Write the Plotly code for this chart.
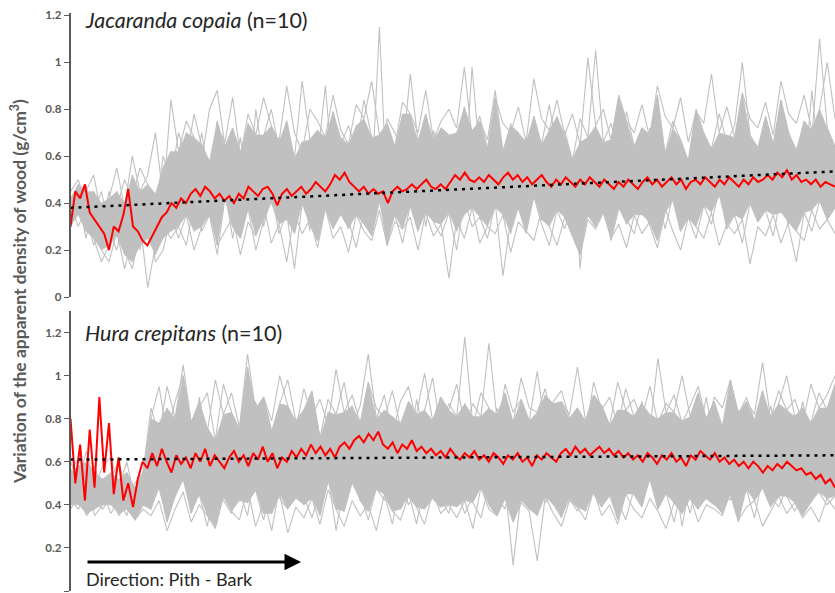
import numpy as np
import plotly.graph_objects as go

# ---------------- Jacaranda copaia: 10 individual profiles (density x100, g/cm3), pith -> bark
jc01 = [38,45,32,28,40,22,35,18,30,42,25,33,48,30,
        52,38,60,44,35,58,47,30,62,41,55,36,70,45,33,52,48,28,60,43,57,39,65,50,31,46,115,42,36,68,47,55,30,49,62,40,53,35,71,44,58,38,50,27,63,46,54,41,66,37,52,45,31,60,48,56,39,72,43,51,35,64,47,58,42,33,55,49,67,40,53,36,61,45,57,38,70,48,52,34,63,46,59,41,55,50]
jc02 = [42,35,48,30,25,38,45,28,52,20,40,35,55,62,
        48,70,55,62,45,75,58,50,68,42,80,56,61,47,72,53,66,44,59,90,51,64,48,73,57,45,69,55,62,78,50,65,43,71,58,54,67,46,98,60,52,63,49,74,56,68,45,60,53,77,62,48,66,55,70,44,59,85,57,64,50,72,58,46,67,61,53,75,49,63,56,69,47,80,60,54,65,51,73,58,62,48,88,57,66,52]
jc03 = [30,40,28,35,20,15,28,12,25,32,4,22,30,25,
        30,22,40,28,35,18,42,30,25,38,20,33,45,27,36,12,40,31,24,38,29,44,33,21,37,26,41,30,35,23,39,28,45,32,26,36,20,42,30,34,25,40,9,33,38,27,43,31,22,37,29,41,26,35,30,44,24,38,33,27,40,30,21,36,42,28,34,25,39,31,46,29,35,23,40,32,37,26,43,30,15,36,28,41,33,38]
jc04 = [45,50,40,35,45,30,38,50,42,55,48,36,60,50,
        70,58,78,64,55,72,66,85,60,74,57,69,80,63,75,59,92,67,71,58,79,65,73,62,84,68,56,76,70,61,95,66,78,60,72,69,57,81,64,75,67,88,62,73,70,59,77,65,82,63,71,58,76,68,105,66,74,60,79,64,72,69,86,61,75,67,58,80,70,63,78,66,73,100,69,62,77,65,84,70,60,75,68,110,72,64]
jc05 = [35,42,25,40,32,28,20,35,24,38,30,18,35,28,
        35,45,28,50,40,32,46,25,42,38,52,30,44,36,48,27,41,55,33,43,37,50,29,45,39,34,47,22,44,40,53,31,46,36,42,49,28,45,38,51,34,40,44,30,48,37,54,33,43,39,46,26,42,50,35,44,38,47,31,41,52,36,45,29,43,40,48,34,46,37,51,30,44,39,55,33,42,47,36,45,32,49,40,43,38,46]
jc06 = [32,38,35,22,30,45,26,40,15,30,48,38,25,45,
        55,42,50,65,47,38,58,52,44,62,49,56,40,68,53,46,60,51,43,64,57,35,54,61,48,59,45,66,52,50,41,63,55,47,58,44,70,51,56,39,61,54,48,65,50,43,59,53,46,62,49,57,12,55,60,45,52,67,48,58,51,44,63,56,49,60,42,54,66,50,57,46,61,53,48,64,52,59,45,55,62,50,47,58,53,60]
jc07 = [40,30,38,25,15,22,30,20,12,28,35,15,20,35,
        25,35,20,30,38,22,28,34,18,32,26,40,23,31,15,36,27,33,21,38,25,30,19,35,28,24,37,22,32,29,34,20,36,26,31,8,33,25,38,23,30,27,35,19,32,28,24,37,30,22,34,26,18,33,29,36,25,31,21,35,27,32,24,38,28,20,34,30,25,36,22,31,27,33,14,30,26,35,23,32,28,24,37,29,33,27]
jc08 = [40,48,45,52,35,42,55,38,60,45,52,70,42,84,
        62,75,68,58,80,88,64,72,60,78,69,85,73,66,90,70,62,80,75,68,86,71,65,82,76,92,69,74,64,83,78,70,88,67,75,80,72,98,68,77,63,85,74,70,81,66,93,76,71,84,69,78,65,102,73,80,67,86,75,70,82,68,90,77,72,85,66,79,74,95,70,81,68,87,76,72,83,69,92,78,74,86,71,80,100,76]
jc09 = [35,38,45,30,36,25,42,28,50,22,38,44,30,40,
        42,50,36,47,58,40,44,52,38,48,34,55,43,49,37,53,45,40,57,42,51,35,46,60,41,48,54,39,47,43,56,36,50,45,53,40,47,61,38,49,44,52,35,58,46,41,50,55,37,48,43,54,40,47,51,36,57,44,49,42,53,38,46,56,41,50,45,39,55,47,43,52,48,37,58,44,50,41,54,46,40,53,49,45,51,47]
jc10 = [30,42,38,45,28,35,32,40,30,45,36,40,50,38,
        60,45,52,70,48,56,62,40,58,51,66,46,55,60,43,57,64,50,47,59,53,68,44,61,55,49,63,52,58,45,67,54,50,60,47,56,62,48,65,53,58,51,44,60,55,63,49,57,52,66,47,59,54,61,50,56,64,48,58,53,46,62,55,51,67,49,57,60,52,45,63,56,50,59,54,61,48,58,65,53,57,50,62,55,59,52]

# ---------------- Hura crepitans: 10 individual profiles (density x100, g/cm3)
hc01 = [55,48,60,42,52,45,38,50,40,45,
        62,75,55,68,80,58,66,72,50,78,63,70,57,85,61,74,66,52,79,64,71,58,83,67,60,76,55,69,73,62,81,57,70,65,78,59,88,63,72,56,77,68,61,82,66,74,58,70,64,86,60,75,67,53,79,63,71,65,84,58,73,69,62,80,66,56,77,64,72,60,83,67,70,59,75,63,68,81,57,72,66,78,61,69,74,64]
hc02 = [60,52,65,48,58,62,50,55,45,52,
        80,95,72,88,100,78,85,92,70,96,83,75,104,81,90,74,87,98,79,84,93,71,89,82,97,76,86,110,80,91,73,88,95,78,84,99,75,87,81,118,77,92,85,74,96,83,89,79,102,76,88,93,80,85,72,97,84,90,77,94,81,87,75,108,83,91,78,86,95,80,88,74,98,82,90,79,93,76,87,100,81,85,78,92,84,96]
hc03 = [42,38,50,35,40,44,36,42,33,40,
        38,50,32,45,55,36,48,42,30,52,40,46,35,58,43,28,49,39,53,44,34,47,56,41,37,51,45,33,48,42,55,38,46,31,50,43,39,54,47,36,44,52,40,35,49,12,45,38,53,41,47,34,50,44,37,56,42,48,33,51,45,39,54,40,46,32,49,43,38,52,45,36,50,41,47,34,53,44,39,48,42,35,51,46,40,44]
hc04 = [50,58,45,55,48,52,60,44,50,55,
        70,60,85,66,74,58,90,68,62,80,72,65,88,70,77,61,83,69,75,64,92,71,67,79,73,86,63,76,70,84,66,78,60,89,72,68,81,74,65,87,70,77,62,85,73,69,80,75,66,91,71,78,64,83,72,68,86,74,61,79,70,88,67,76,73,82,65,80,71,90,69,75,63,84,72,78,66,86,70,74,81,68,77,72,85,75]
hc05 = [40,45,36,42,38,44,35,40,33,38,
        35,42,28,38,46,32,40,35,29,44,37,33,48,30,41,36,45,27,39,34,43,31,47,38,30,42,35,40,28,45,37,33,44,39,31,46,36,40,34,42,29,48,38,35,43,32,41,37,14,44,36,30,42,39,33,47,35,40,31,45,38,34,43,37,29,41,36,44,32,40,38,35,46,33,39,42,30,37,44,36,41,34,39,32,43,38]
hc06 = [48,55,42,50,45,40,52,38,46,50,
        58,48,66,52,60,45,70,55,50,63,57,47,68,54,61,49,72,56,51,65,46,59,62,53,75,50,57,64,48,60,55,69,52,47,62,58,71,50,56,63,45,59,66,54,50,61,57,74,52,48,60,55,67,51,58,46,63,56,70,53,49,62,57,65,50,59,54,68,48,61,56,52,64,58,72,50,55,60,53,66,49,57,62,54,59,51]
hc07 = [55,62,50,58,45,52,48,60,42,55,
        85,72,95,80,105,78,88,74,98,82,92,76,110,84,90,79,100,86,75,94,81,89,77,103,83,91,78,97,85,80,93,76,88,82,101,79,90,84,96,77,87,81,115,80,92,78,99,85,83,94,76,88,82,104,79,91,86,77,97,84,89,80,95,78,87,83,100,81,92,76,90,85,98,79,88,82,106,80,93,84,89,78,96,85,91,100]
hc08 = [45,40,52,38,46,50,42,35,48,40,
        45,55,40,52,60,44,50,38,57,47,53,42,62,48,36,56,46,51,43,59,49,45,54,28,50,58,44,52,47,61,41,55,49,46,57,43,53,50,39,58,47,52,44,60,48,42,55,51,46,63,45,53,49,40,56,48,52,44,59,47,50,43,57,49,45,54,30,51,56,46,53,48,42,58,50,45,55,47,52,44,57,49,46,54,50,48]
hc09 = [52,45,58,50,42,55,46,52,48,44,
        68,78,60,72,85,64,70,76,58,82,67,74,62,88,69,73,65,80,71,59,84,68,75,63,79,70,66,86,72,61,77,69,83,64,74,70,90,67,73,62,81,71,76,65,85,68,72,60,78,70,87,66,74,69,80,63,76,71,84,67,73,65,82,70,75,62,79,68,86,72,66,77,70,83,64,74,69,81,67,76,72,88,65,73,78,70]
hc10 = [38,44,35,40,46,36,42,38,34,40,
        40,48,34,44,52,38,45,30,50,42,36,55,41,47,33,49,43,38,53,40,46,35,51,44,39,56,42,37,48,45,31,52,40,46,38,54,43,36,50,47,41,34,49,44,38,53,42,46,35,51,40,48,43,37,55,45,39,50,42,33,47,44,52,38,46,41,49,36,53,43,40,47,45,32,50,42,48,39,54,44,37,46,41,51,43,45]

# ---------------- mean profiles (g/cm3)
jac_mean = [0.30,0.45,0.42,0.48,0.36,0.33,0.30,0.27,0.20,0.30,0.28,0.35,0.46,0.30,0.28,0.24,0.22,0.26,0.30,0.34,
            0.36,0.40,0.38,0.42,0.40,0.44,0.46,0.43,0.47,0.45,0.42,0.44,0.41,0.43,0.40,0.44,0.42,0.47,0.45,0.43,
            0.46,0.47,0.44,0.39,0.44,0.46,0.43,0.45,0.47,0.44,0.46,0.49,0.47,0.45,0.48,0.52,0.50,0.53,0.49,0.47,
            0.45,0.47,0.44,0.46,0.44,0.45,0.40,0.45,0.47,0.45,0.46,0.48,0.46,0.48,0.50,0.47,0.46,0.48,0.46,0.49,
            0.52,0.50,0.53,0.50,0.49,0.51,0.49,0.52,0.50,0.48,0.51,0.53,0.50,0.52,0.49,0.51,0.48,0.50,0.52,0.49,
            0.47,0.50,0.48,0.51,0.49,0.47,0.50,0.48,0.51,0.49,0.47,0.50,0.48,0.46,0.49,0.47,0.50,0.48,0.46,0.49,
            0.51,0.48,0.50,0.47,0.49,0.51,0.48,0.50,0.46,0.49,0.50,0.48,0.51,0.49,0.47,0.50,0.48,0.51,0.49,0.47,
            0.50,0.48,0.51,0.49,0.50,0.52,0.50,0.53,0.51,0.54,0.50,0.52,0.49,0.50,0.48,0.50,0.47,0.49,0.48,0.47]
hura_mean = [0.80,0.50,0.68,0.42,0.75,0.48,0.90,0.55,0.78,0.45,0.62,0.42,0.50,0.39,0.52,0.60,0.57,0.64,0.58,0.66,
             0.60,0.55,0.63,0.59,0.62,0.57,0.64,0.60,0.66,0.58,0.63,0.60,0.57,0.62,0.65,0.60,0.63,0.58,0.64,0.61,
             0.67,0.60,0.64,0.57,0.62,0.60,0.65,0.62,0.66,0.63,0.68,0.64,0.67,0.63,0.66,0.62,0.67,0.69,0.66,0.70,
             0.72,0.69,0.73,0.70,0.74,0.68,0.66,0.69,0.64,0.68,0.66,0.70,0.65,0.67,0.64,0.66,0.63,0.65,0.62,0.66,
             0.63,0.61,0.64,0.62,0.65,0.61,0.63,0.60,0.64,0.62,0.59,0.63,0.61,0.64,0.60,0.62,0.58,0.63,0.61,0.64,
             0.62,0.60,0.64,0.66,0.63,0.67,0.64,0.66,0.63,0.65,0.67,0.64,0.66,0.63,0.65,0.62,0.64,0.61,0.63,0.60,
             0.64,0.62,0.59,0.63,0.61,0.64,0.60,0.62,0.58,0.63,0.61,0.65,0.63,0.61,0.64,0.60,0.62,0.59,0.61,0.58,
             0.60,0.57,0.60,0.58,0.55,0.58,0.56,0.59,0.57,0.60,0.58,0.56,0.57,0.54,0.55,0.52,0.54,0.50,0.52,0.48]

# linear trend lines (value at pith, value at bark)
jac_trend = [0.38, 0.535]
hura_trend = [0.61, 0.63]

tick_vals = [0, 0.2, 0.4, 0.6, 0.8, 1.0, 1.2]
tick_text = ["0", "0.2", "0.4", "0.6", "0.8", "1", "1.2"]

jac_ind = [jc01, jc02, jc03, jc04, jc05, jc06, jc07, jc08, jc09, jc10]
hura_ind = [hc01, hc02, hc03, hc04, hc05, hc06, hc07, hc08, hc09, hc10]

GRAY = "#c0c0c0"
RED = "#ff0000"
FONT = "Lato"

fig = go.Figure()

def add_panel(inds, mean, trend, xa, ya):
    L = min(len(s) for s in inds)
    arr = np.array([s[:L] for s in inds], dtype=float) / 100.0
    xg = np.linspace(0, 1, L)
    srt = np.sort(arr, axis=0)
    lo, hi = srt[1], srt[-2]
    # band covered by the bulk of the individual profiles
    fig.add_trace(go.Scatter(x=np.concatenate([xg, xg[::-1]]), y=np.concatenate([hi, lo[::-1]]),
                             mode="lines", fill="toself", fillcolor=GRAY,
                             line=dict(color=GRAY, width=0.5), xaxis=xa, yaxis=ya,
                             hoverinfo="skip", showlegend=False))
    for v in arr:
        fig.add_trace(go.Scatter(x=xg, y=v, mode="lines",
                                 line=dict(color=GRAY, width=1.1), xaxis=xa, yaxis=ya,
                                 hoverinfo="skip", showlegend=False))
    fig.add_trace(go.Scatter(x=np.linspace(0, 1, len(mean)), y=mean, mode="lines",
                             line=dict(color=RED, width=2), xaxis=xa, yaxis=ya, showlegend=False))
    fig.add_trace(go.Scatter(x=[0, 1], y=trend, mode="lines",
                             line=dict(color="black", width=2.5, dash="3px,5px"),
                             xaxis=xa, yaxis=ya, showlegend=False))

add_panel(jac_ind, jac_mean, jac_trend, "x", "y")
add_panel(hura_ind, hura_mean, hura_trend, "x2", "y2")

H = 593.0
W = 835.0
xdom = [70.5 / W, 1.0]
yaxis_common = dict(showline=True, linecolor="#595959", linewidth=1.5, ticks="outside",
                    ticklen=5, tickwidth=1.2, tickcolor="#595959", showgrid=False, zeroline=False,
                    tickvals=tick_vals, ticktext=tick_text,
                    tickfont=dict(family=FONT, size=11.5, color="#595959", weight="bold"),
                    automargin=False, fixedrange=True)

fig.update_layout(
    width=835, height=593,
    margin=dict(l=0, r=0, t=0, b=0),
    paper_bgcolor="white", plot_bgcolor="white",
    xaxis=dict(domain=xdom, range=[0, 1], visible=False, anchor="y"),
    xaxis2=dict(domain=xdom, range=[0, 1], visible=False, anchor="y2"),
    yaxis=dict(domain=[1 - 297 / H, 1 - 13 / H], range=[0, 1.21], anchor="x", **yaxis_common),
    yaxis2=dict(domain=[1 - 591 / H, 1 - 311 / H], range=[0, 1.3], anchor="x2", **yaxis_common),
    showlegend=False,
)

fig.add_annotation(text="<i>Jacaranda copaia</i> (n=10)", xref="paper", yref="paper",
                   x=83 / W, y=1 - 20 / H, xanchor="left", yanchor="middle", showarrow=False,
                   font=dict(family=FONT, size=21.5, color="#262626"))
fig.add_annotation(text="<i>Hura crepitans</i> (n=10)", xref="paper", yref="paper",
                   x=83 / W, y=1 - 333 / H, xanchor="left", yanchor="middle", showarrow=False,
                   font=dict(family=FONT, size=21.5, color="#262626"))
fig.add_annotation(text="Variation of the apparent density of wood (g/cm<sup>3</sup>)",
                   xref="paper", yref="paper", x=18 / W, y=1 - 292 / H, textangle=-90,
                   xanchor="center", yanchor="middle", showarrow=False,
                   font=dict(family=FONT, size=17.5, color="#595959", weight="bold"))
fig.add_annotation(text="", xref="paper", yref="paper", axref="pixel", ayref="pixel",
                   x=301 / W, y=1 - 562 / H, ax=-215, ay=0,
                   showarrow=True, arrowhead=2, arrowsize=1.1, arrowwidth=3, arrowcolor="black")
fig.add_annotation(text="Direction: Pith - Bark", xref="paper", yref="paper",
                   x=84 / W, y=1 - 579 / H, xanchor="left", yanchor="middle", showarrow=False,
                   font=dict(family=FONT, size=18, color="#262626"))

fig.write_html("out.html")
